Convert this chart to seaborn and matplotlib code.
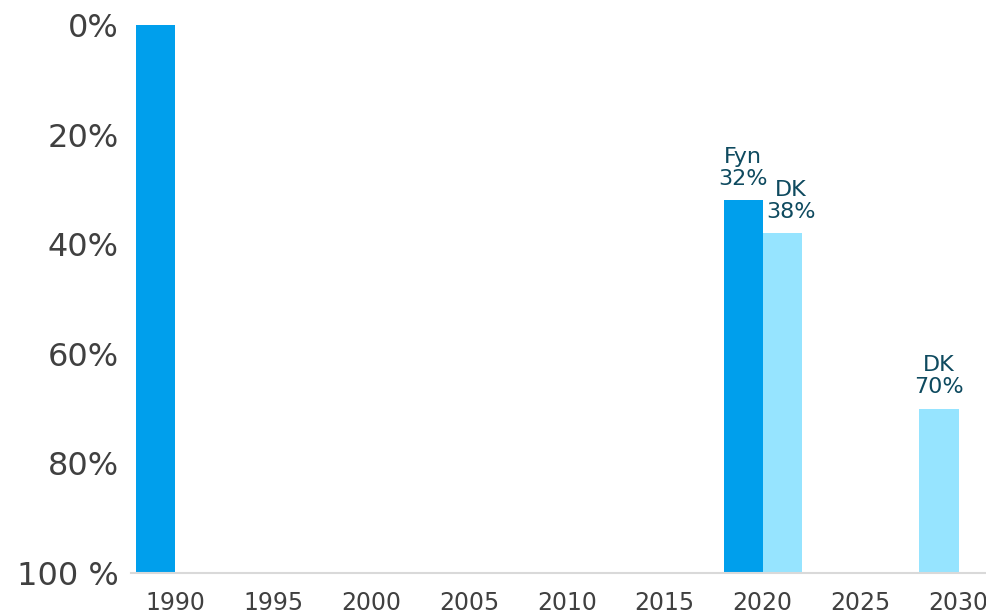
import matplotlib
matplotlib.use("Agg")
import matplotlib.pyplot as plt
import seaborn as sns
import pandas as pd

# ---- data ----
years = ["1990", "1995", "2000", "2005", "2010", "2015", "2020", "2025", "2030"]
bar_years = ["1990", "2020", "2020", "2030"]
bar_region = ["Fyn", "Fyn", "DK", "DK"]
bar_slot = ["left", "left", "right", "left"]
bar_values = [0, 32, 38, 70]          # reduction in %, axis runs 0% (top) -> 100 % (bottom)
bar_labels = ["", "Fyn\n32%", "DK\n38%", "DK\n70%"]
label_dx = [0, 0, 6, 0]               # small horizontal nudge of labels (points)
ytick_values = [0, 20, 40, 60, 80, 100]
ytick_labels = ["0%", "20%", "40%", "60%", "80%", "100 %"]

dark_blue = "#009FEC"
light_blue = "#96E4FF"
region_colors = {"Fyn": dark_blue, "DK": light_blue}

df = pd.DataFrame({
    "year": bar_years,
    "region": bar_region,
    "slot": bar_slot,
    "value": bar_values,
    "label": bar_labels,
})
df["height"] = 100 - df["value"]

sns.set_theme(style="white")
plt.rcParams["font.family"] = ["DejaVu Sans"]

fig = plt.figure(figsize=(9.86, 6.15), dpi=100)
ax = fig.add_axes([131 / 986, 42 / 615, (986 - 131) / 986, 548 / 615])

sns.barplot(data=df, x="year", y="height", hue="slot", order=years,
            hue_order=["left", "right"],
            palette={"left": dark_blue, "right": light_blue},
            width=0.8, dodge=True, errorbar=None, saturation=1,
            legend=False, linewidth=0, ax=ax)

for p in ax.patches:
    cx = p.get_x() + p.get_width() / 2
    idx = int(round(cx))
    slot = "left" if cx < idx else "right"
    sel = df[(df["year"] == years[idx]) & (df["slot"] == slot)]
    if sel.empty:
        continue
    row = sel.iloc[0]
    p.set_facecolor(region_colors[row["region"]])
    i = sel.index[0]
    if row["label"]:
        ax.annotate(row["label"], xy=(cx, p.get_height()),
                    xytext=(label_dx[i], 8), textcoords="offset points",
                    ha="center", va="bottom", fontsize=16,
                    color="#0E4A5F", linespacing=1.15)

ax.set_xlim(-0.45, 8.28)
ax.set_ylim(0, 100)
ax.set_yticks([100 - v for v in ytick_values])
ax.set_yticklabels(ytick_labels)
ax.set_xlabel("")
ax.set_ylabel("")

ax.tick_params(axis="y", length=0, pad=9, labelsize=23, labelcolor="#404040")
ax.tick_params(axis="x", length=0, pad=13, labelsize=17, labelcolor="#404040")

for s in ["top", "right", "left"]:
    ax.spines[s].set_visible(False)
ax.spines["bottom"].set_color("#D9D9D9")
ax.spines["bottom"].set_linewidth(1.5)
ax.grid(False)

fig.savefig("out.png", dpi=100)
